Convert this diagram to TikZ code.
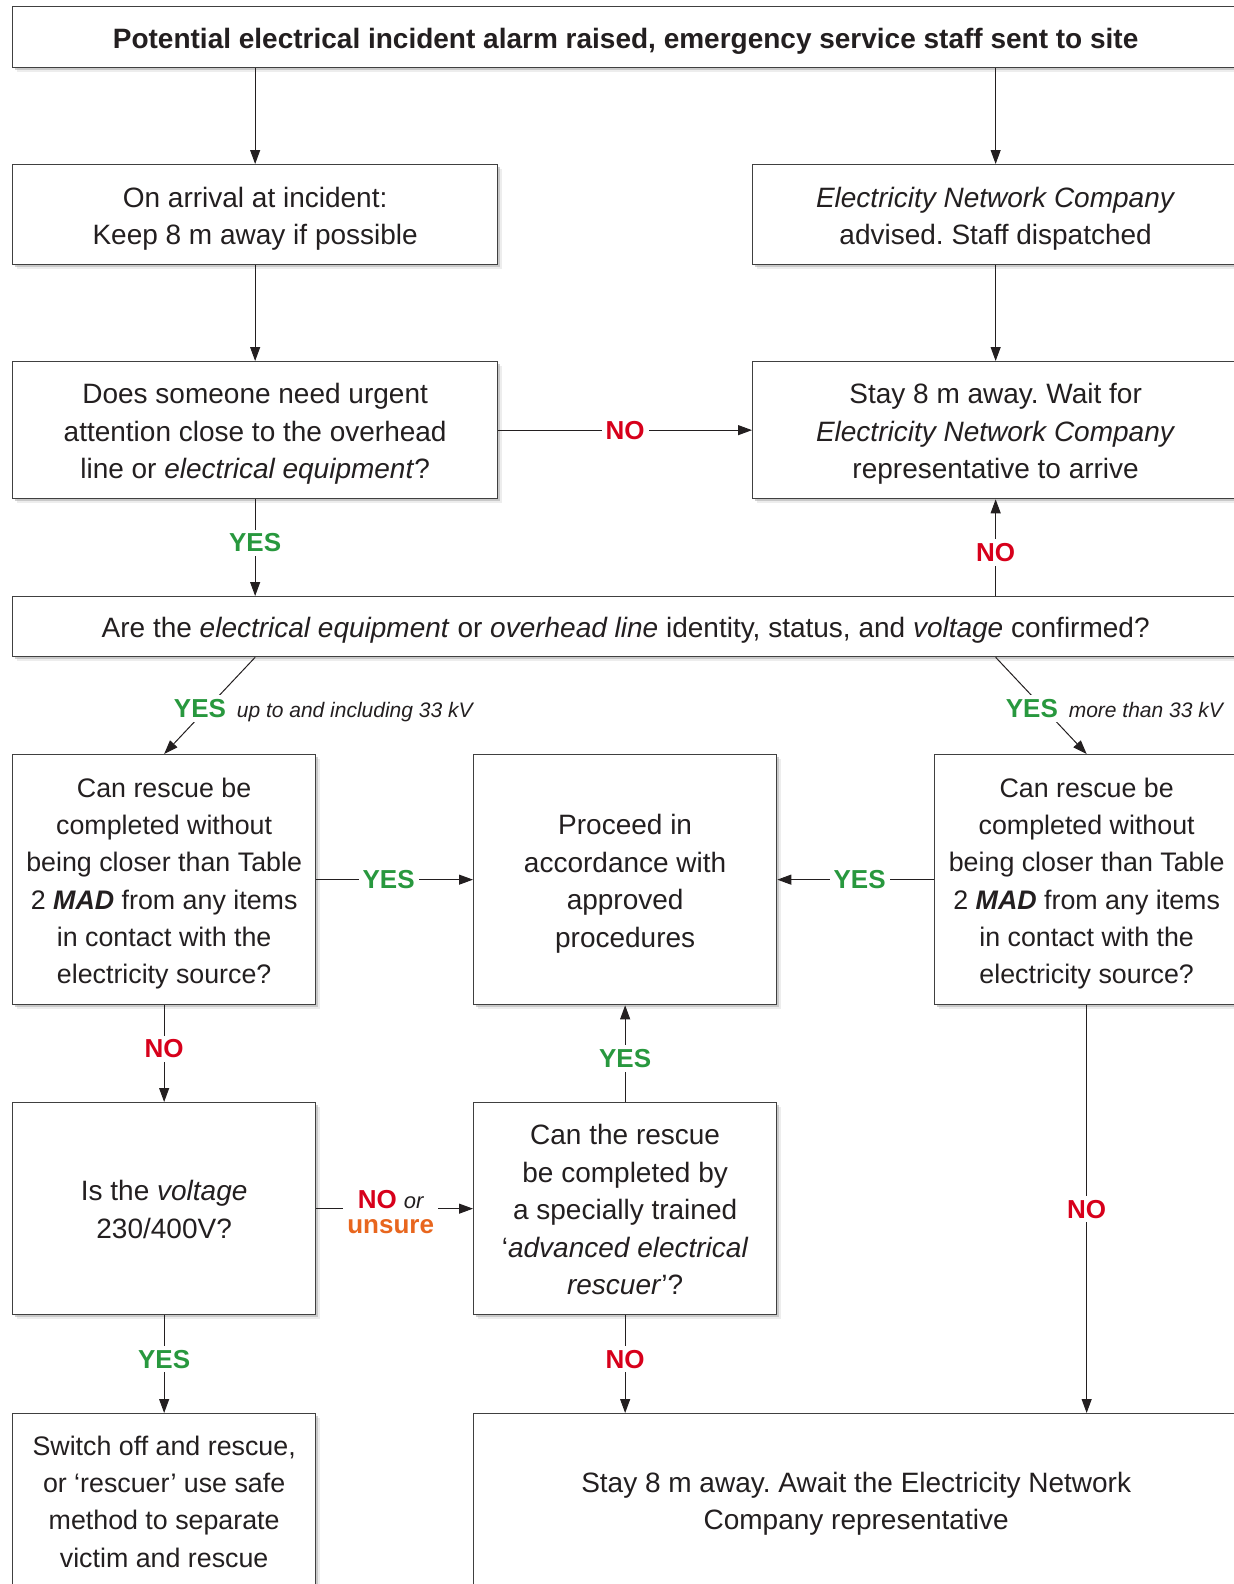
\documentclass[tikz,border=0pt]{standalone}
\usepackage{fontspec}
\setmainfont{Liberation Sans}
\usetikzlibrary{arrows.meta,shadows}
\definecolor{yesg}{RGB}{40,152,62}
\definecolor{nor}{RGB}{215,0,27}
\definecolor{unso}{RGB}{232,102,30}
\definecolor{txt}{RGB}{35,31,32}
\frenchspacing
\begin{document}
\begin{tikzpicture}[x=0.5pt,y=-0.5pt,
 box/.style={draw=black!75, line width=0.65pt, fill=white, inner sep=0pt,
   anchor=north west,
   drop shadow={shadow xshift=2.4pt, shadow yshift=-2.4pt, fill=black!14},
   drop shadow={shadow xshift=1.4pt, shadow yshift=-1.4pt, fill=black!35}},
 tx/.style={align=center, font=\fontsize{14}{18.7}\selectfont, text=txt, inner sep=0pt, yshift=-2pt},
 txs/.style={tx, font=\fontsize{13.4}{18.6}\selectfont},
 arr/.style={draw=txt, line width=0.5pt, -{Triangle[length=7pt,width=5pt]}},
 yes/.style={fill=white, inner sep=2pt, text=yesg, font=\fontsize{13}{15}\selectfont\bfseries},
 no/.style={fill=white, inner sep=2pt, text=nor, font=\fontsize{13}{15}\selectfont\bfseries},
 note/.style={font=\fontsize{10.5}{12}\selectfont\itshape, text=txt, inner sep=1pt}
]
\useasboundingbox (0,0) rectangle (1234,1584);
\clip (0,0) rectangle (1234,1584);

\node[box, minimum width=613pt, minimum height=30.5pt,
  label={[tx, font=\fontsize{14}{16}\selectfont\bfseries]center:{Potential electrical incident alarm raised, emergency service staff sent to site}}] (top) at (12,6) {};

\node[box, minimum width=242.5pt, minimum height=50pt,
  label={[tx]center:{On arrival at incident:\\Keep 8 m away if possible}}] (a) at (12,164) {};
\node[box, minimum width=243pt, minimum height=50pt,
  label={[tx]center:{\textit{Electricity Network Company}\\advised. Staff dispatched}}] (b) at (752,164) {};

\node[box, minimum width=242.5pt, minimum height=68.5pt,
  label={[tx]center:{Does someone need urgent\\attention close to the overhead\\line or \textit{electrical equipment}?}}] (c) at (12,361) {};
\node[box, minimum width=243pt, minimum height=68.5pt,
  label={[tx]center:{Stay 8 m away. Wait for\\\textit{Electricity Network Company}\\representative to arrive}}] (d) at (752,361) {};

\node[box, minimum width=613pt, minimum height=30pt,
  label={[tx]center:{Are the \textit{electrical equipment} or \textit{overhead line} identity, status, and \textit{voltage} confirmed?}}] (e) at (12,596) {};

\node[box, minimum width=151.5pt, minimum height=125pt,
  label={[txs]center:{Can rescue be\\completed without\\being closer than Table\\2 \textbf{\textit{MAD}} from any items\\in contact with the\\electricity source?}}] (f) at (12,754) {};
\node[box, minimum width=151.5pt, minimum height=125pt,
  label={[tx]center:{Proceed in\\accordance with\\approved\\procedures}}] (g) at (473,754) {};
\node[box, minimum width=152pt, minimum height=125pt,
  label={[txs]center:{Can rescue be\\completed without\\being closer than Table\\2 \textbf{\textit{MAD}} from any items\\in contact with the\\electricity source?}}] (h) at (934,754) {};

\node[box, minimum width=151.5pt, minimum height=106pt,
  label={[tx, yshift=1.5pt]center:{Is the \textit{voltage}\\230/400V?}}] (i) at (12,1102) {};
\node[box, minimum width=151.5pt, minimum height=106pt,
  label={[tx, yshift=1.5pt]center:{Can the rescue\\be completed by\\a specially trained\\‘\textit{advanced electrical}\\\textit{rescuer}’?}}] (j) at (473,1102) {};

\node[box, minimum width=151.5pt, minimum height=88pt,
  label={[txs, yshift=2pt]center:{Switch off and rescue,\\or ‘rescuer’ use safe\\method to separate\\victim and rescue}}] (k) at (12,1413) {};
\node[box, minimum width=382.5pt, minimum height=88pt,
  label={[tx, yshift=1pt]center:{Stay 8 m away. Await the Electricity Network\\Company representative}}] (l) at (473,1413) {};

% connectors
\draw[arr] (top.south -| a.north) -- (a.north);
\draw[arr] (top.south -| b.north) -- (b.north);
\draw[arr] (a.south) -- (c.north);
\draw[arr] (b.south) -- (d.north);
\draw[arr] (c.east) -- node[no] {NO} (d.west);
\draw[arr] (c.south) -- node[yes, pos=0.45] {YES} (e.north -| c.south);
\draw[arr] (e.north -| d.south) -- node[no, pos=0.45] {NO} (d.south);

\draw[arr] (e.south -| c.south) -- node[yes, pos=0.53, xshift=-3.5pt] (y1) {YES} (f.north);
\node[note, anchor=base west, xshift=2pt] (n1) at (y1.base east) {up to and including 33 kV};
\draw[arr] (e.south -| d.south) -- node[yes, pos=0.53, xshift=-6pt] (y2) {YES} (h.north);
\node[note, anchor=base west, xshift=2pt] (n2) at (y2.base east) {more than 33 kV};

\draw[arr] (f.east) -- node[yes, xshift=-3pt] {YES} (g.west);
\draw[arr] (h.west) -- node[yes, xshift=2pt] {YES} (g.east);
\draw[arr] (f.south) -- node[no, pos=0.45] {NO} (i.north);
\draw[arr] (j.north) -- node[yes, pos=0.45] {YES} (g.south);
\draw[arr] (i.east) -- node[fill=white, align=center, inner sep=2pt, xshift=-2pt, yshift=-1.5pt,
    font=\fontsize{13}{12.5}\selectfont\bfseries]
  {\textcolor{nor}{NO} {\fontsize{11}{12}\selectfont\mdseries\itshape\color{txt}or}\\\textcolor{unso}{unsure}} (j.west);
\draw[arr] (i.south) -- node[yes, pos=0.45] {YES} (k.north);
\draw[arr] (j.south) -- node[no, pos=0.45] {NO} (l.north -| j.south);
\draw[arr] (h.south) -- node[no, pos=0.5] {NO} (l.north -| h.south);
\end{tikzpicture}
\end{document}
